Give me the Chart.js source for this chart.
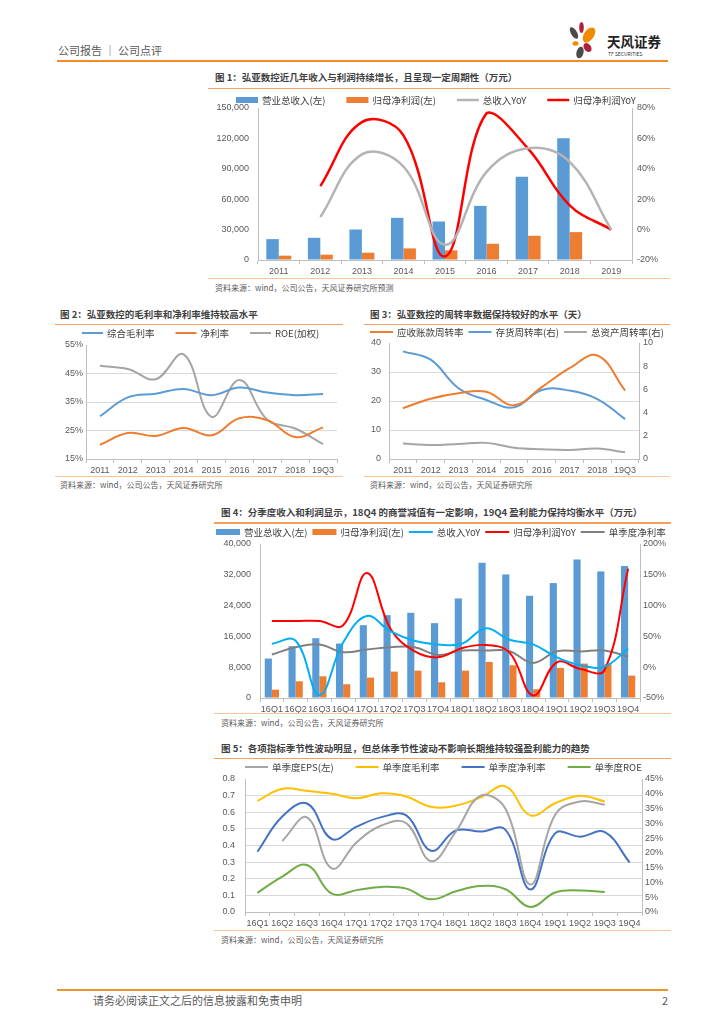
<!DOCTYPE html>
<html>
<head>
<meta charset="utf-8">
<script src="https://cdn.jsdelivr.net/npm/chart.js@4.4.1/dist/chart.umd.min.js"></script>
<style>
body { margin: 0; width: 724px; height: 1024px; position: relative; background: #fff; overflow: hidden;
       font-family: "Noto Sans CJK SC", sans-serif; }
.t { position: absolute; white-space: nowrap; line-height: 1; }
.title { font-size: 9.5px; font-weight: bold; color: #3f3f3f; }
.src { font-size: 8px; color: #595959; }
.rule { position: absolute; }
.top { height: 1.5px; background: #f5a05a; }
.bot { height: 1px; background: #f8c49b; }
canvas { position: absolute; }
</style>
</head>
<body>

<div class="t" style="left:58px;top:45px;font-size:11px;color:#595959">公司报告 ｜ 公司点评</div>
<div class="rule" style="left:57px;top:60px;width:611px;height:2px;background:#f08a2c"></div>
<svg style="position:absolute;left:560px;top:15px" width="50" height="50" viewBox="560 15 50 50">
  <ellipse cx="574" cy="33" rx="3" ry="6.5" fill="#4a4a4a" transform="rotate(-30 574 33)"/>
  <ellipse cx="581.5" cy="27.5" rx="2.3" ry="5.5" fill="#b01f3c"/>
  <ellipse cx="589" cy="35" rx="5" ry="8.5" fill="#f08a00" transform="rotate(35 589 35)"/>
  <ellipse cx="575.5" cy="43.5" rx="3" ry="2.2" fill="#f08a00"/>
  <ellipse cx="587.5" cy="47.5" rx="3.5" ry="5" fill="#b01f3c" transform="rotate(-35 587.5 47.5)"/>
  <ellipse cx="580" cy="52.5" rx="3.5" ry="6" fill="#4a4a4a" transform="rotate(15 580 52.5)"/>
</svg>
<div class="t" style="left:607px;top:35px;font-size:13.5px;font-weight:bold;color:#222">天风证券</div>
<div class="t" style="left:608px;top:51px;font-size:5px;color:#333">TF SECURITIES</div>

<div class="t title" style="left:215px;top:73px">图 1：弘亚数控近几年收入与利润持续增长，且呈现一定周期性（万元）</div>
<div class="rule top" style="left:208px;top:87.5px;width:462px"></div>
<canvas id="c1" width="467" height="188" style="left:205px;top:90px"></canvas>
<div class="rule bot" style="left:208px;top:278px;width:462px"></div>
<div class="t src" style="left:215px;top:284px">资料来源：wind，公司公告，天风证券研究所预测</div>

<div class="t title" style="left:60px;top:310px">图 2：弘亚数控的毛利率和净利率维持较高水平</div>
<div class="rule top" style="left:55px;top:323.5px;width:288px"></div>
<canvas id="c2" width="290" height="150" style="left:55px;top:326px"></canvas>
<div class="rule bot" style="left:55px;top:475.5px;width:288px"></div>
<div class="t src" style="left:60px;top:481px">资料来源：wind，公司公告，天风证券研究所</div>

<div class="t title" style="left:370px;top:310px">图 3：弘亚数控的周转率数据保持较好的水平（天）</div>
<div class="rule top" style="left:364px;top:323.5px;width:306px"></div>
<canvas id="c3" width="310" height="150" style="left:362px;top:326px"></canvas>
<div class="rule bot" style="left:364px;top:475.5px;width:306px"></div>
<div class="t src" style="left:370px;top:481px">资料来源：wind，公司公告，天风证券研究所</div>

<div class="t title" style="left:221px;top:508px">图 4：分季度收入和利润显示，18Q4 的商誉减值有一定影响，19Q4 盈利能力保持均衡水平（万元）</div>
<div class="rule top" style="left:214px;top:522px;width:457px"></div>
<canvas id="c4" width="475" height="188" style="left:205px;top:525px"></canvas>
<div class="rule bot" style="left:214px;top:712.5px;width:457px"></div>
<div class="t src" style="left:221px;top:718.5px">资料来源：wind，公司公告，天风证券研究所</div>

<div class="t title" style="left:221px;top:744px">图 5：各项指标季节性波动明显，但总体季节性波动不影响长期维持较强盈利能力的趋势</div>
<div class="rule top" style="left:214px;top:757.5px;width:457px"></div>
<canvas id="c5" width="475" height="170" style="left:205px;top:760px"></canvas>
<div class="rule bot" style="left:214px;top:929.5px;width:457px"></div>
<div class="t src" style="left:221px;top:936px">资料来源：wind，公司公告，天风证券研究所</div>

<div class="rule" style="left:57px;top:988.5px;width:611px;height:2px;background:#e8962e"></div>
<div class="t" style="left:93px;top:994.5px;font-size:11px;color:#595959">请务必阅读正文之后的信息披露和免责申明</div>
<div class="t" style="left:662px;top:994.5px;font-size:11px;color:#595959">2</div>

<script>
// 图1 年度数据
const years = ['2011', '2012', '2013', '2014', '2015', '2016', '2017', '2018', '2019'];
const yearRevenue = [20600, 21900, 30100, 41600, 38000, 53400, 82200, 120200, null];
const yearProfit = [4260, 5240, 7200, 11460, 9500, 16000, 23900, 27500, null];
const yearRevenueYoY = [null, 8.3, 49.5, 41.5, -10, 38, 53.5, 44.5, 0];
const yearProfitYoY = [null, 28.6, 70.7, 62, -17.7, 76.6, 53.3, 16, 0];

// 图2 / 图3
const annualLabels = ['2011', '2012', '2013', '2014', '2015', '2016', '2017', '2018', '19Q3'];
const grossMargin = [30.0, 36.6, 37.9, 39.6, 37.4, 40.1, 38.3, 37.4, 37.8];
const netMargin = [20.0, 24.1, 23.1, 25.9, 23.3, 29.3, 28.6, 22.7, 26.1];
const roeWeighted = [47.7, 46.6, 43.0, 51.7, 29.8, 42.7, 28.8, 25.7, 20.2];
const arTurnover = [17.5, 20.8, 22.7, 23.2, 18.5, 24.8, 31.3, 35.7, 23.6];
const invTurnover = [9.28, 8.56, 6.1, 5.09, 4.45, 5.95, 5.9, 5.17, 3.44];
const assetTurnover = [1.33, 1.21, 1.3, 1.39, 0.98, 0.84, 0.78, 0.9, 0.58];

// 图4 / 图5 分季度
const quarters = ['16Q1', '16Q2', '16Q3', '16Q4', '17Q1', '17Q2', '17Q3', '17Q4',
                  '18Q1', '18Q2', '18Q3', '18Q4', '19Q1', '19Q2', '19Q3', '19Q4'];
const qRevenue = [10240, 13450, 15530, 14140, 18920, 21520, 22130, 19440,
                  25860, 35140, 32100, 26550, 29850, 36000, 32880, 34270];
const qProfit = [2170, 4340, 5640, 3560, 5290, 6850, 7110, 4080,
                 7110, 9370, 8500, 2260, 7810, 8940, 8760, 5810];
const qRevenueYoY = [38, 43, -45, 40, 83, 58, 43, 37, 38, 63, 44.5, 37, 16, 3, 1, 30];
const qProfitYoY = [75, 75, 75, 68, 153, 62, 26, 16, 31, 36, 24, -46, 8, -3, -5, 160];
const qNetMarginBar = [20.6, 32.5, 37, 24.4, 28.7, 32.5, 32.5, 20, 27, 27, 26, 7, 26, 25.5, 27, 17.4];
const qEps = [null, 0.427, 0.569, 0.262, 0.419, 0.52, 0.534, 0.306,
              0.484, 0.70, 0.62, 0.165, 0.585, 0.665, 0.645, null];
const qGrossMargin = [37.6, 41.7, 41, 40, 38.5, 40.2, 39.1, 35.6,
                      36, 38.8, 42.5, 32.7, 36.8, 39.3, 37.4, null];
const qNetMargin = [20.4, 32.3, 36.7, 24.7, 28.9, 32.1, 32.7, 20.7,
                    27.6, 27.2, 27.8, 7.6, 26.6, 25.5, 27, 16.8];
const qRoe = [6.5, 12, 15.9, 6.2, 7.4, 8.5, 7.9, 4.3, 7, 8.8, 7.7, 1.7, 6.6, 7.3, 6.8, null];

const tickFont = { family: '"Liberation Sans", Arial, sans-serif', size: 9 };
const tickColor = '#595959';
const axisColor = '#bfbfbf';
const gridColor = '#d9d9d9';

// excel-style legend: sample + text, laid out left to right
const excelLegend = {
    id: 'excelLegend',
    afterDraw(chart, args, opts) {
        const ctx = chart.ctx;
        ctx.save();
        ctx.font = '9.5px "Noto Sans CJK SC", sans-serif';
        ctx.textBaseline = 'middle';
        let x = opts.x;
        chart.data.datasets.forEach(ds => {
            if (ds.type === 'bar') {
                ctx.fillStyle = ds.backgroundColor;
                ctx.fillRect(x, opts.y - 3, opts.sw, 6);
            } else {
                ctx.strokeStyle = ds.borderColor;
                ctx.lineWidth = ds.borderWidth;
                ctx.beginPath();
                ctx.moveTo(x, opts.y);
                ctx.lineTo(x + opts.sw, opts.y);
                ctx.stroke();
            }
            ctx.fillStyle = '#404040';
            ctx.fillText(ds.label, x + opts.sw + 4, opts.y + 0.5);
            x += opts.sw + 4 + ctx.measureText(ds.label).width + opts.gap;
        });
        ctx.restore();
    }
};

function xAxis(h) {
    return {
        offset: true,
        grid: { offset: true, drawOnChartArea: false, drawTicks: true, tickLength: 4, color: axisColor },
        border: { color: axisColor },
        ticks: { font: tickFont, color: tickColor, padding: 2, autoSkip: false, maxRotation: 0 },
        afterFit: s => { s.height = h; }
    };
}

function yAxis(position, w, min, max, step, fmt, pad, gridOn) {
    return {
        position, min, max,
        ticks: { stepSize: step, font: tickFont, color: tickColor, padding: pad, callback: fmt },
        grid: {
            drawOnChartArea: gridOn, drawTicks: false,
            color: c => (c.tick && c.tick.value >= max - 1e-9) ? 'rgba(0,0,0,0)' : gridColor
        },
        border: { color: axisColor },
        afterFit: s => { s.width = w; }
    };
}

function line(label, data, color, width, axis) {
    return {
        type: 'line', label, data, yAxisID: axis,
        borderColor: color, backgroundColor: color, borderWidth: width,
        pointRadius: 0, tension: 0.4, fill: false, order: 0
    };
}

function bar(label, data, color) {
    return {
        type: 'bar', label, data, yAxisID: 'y',
        backgroundColor: color, borderWidth: 0,
        barPercentage: 1, categoryPercentage: 0.6, order: 1
    };
}

function baseOptions(padding, legend, scales) {
    return {
        responsive: false,
        animation: false,
        layout: { padding },
        plugins: { legend: { display: false }, tooltip: { enabled: false }, excelLegend: legend },
        scales
    };
}

const pct = v => v + '%';
const thousands = v => v.toLocaleString('en-US');

new Chart(document.getElementById('c1'), {
    data: {
        labels: years,
        datasets: [
            bar('营业总收入(左)', yearRevenue, '#5b9bd5'),
            bar('归母净利润(左)', yearProfit, '#ed7d31'),
            line('总收入YoY', yearRevenueYoY, '#b4b4b4', 2.5, 'y2'),
            line('归母净利润YoY', yearProfitYoY, '#ff0000', 2.5, 'y2')
        ]
    },
    options: baseOptions({ top: 18 }, { x: 31, y: 10, sw: 22, gap: 21 }, {
        x: xAxis(18),
        y: yAxis('left', 53, 0, 150000, 30000, thousands, 9, false),
        y2: yAxis('right', 40, -20, 80, 20, pct, 5, false)
    }),
    plugins: [excelLegend]
});

new Chart(document.getElementById('c2'), {
    type: 'line',
    data: {
        labels: annualLabels,
        datasets: [
            line('综合毛利率', grossMargin, '#5b9bd5', 2, 'y'),
            line('净利率', netMargin, '#ed7d31', 2, 'y'),
            line('ROE(加权)', roeWeighted, '#a5a5a5', 2, 'y')
        ]
    },
    options: baseOptions({ top: 19, right: 8 }, { x: 27, y: 7, sw: 21, gap: 21 }, {
        x: xAxis(17),
        y: yAxis('left', 31, 15, 55, 10, pct, 3, true)
    }),
    plugins: [excelLegend]
});

new Chart(document.getElementById('c3'), {
    type: 'line',
    data: {
        labels: annualLabels,
        datasets: [
            line('应收账款周转率', arTurnover, '#ed7d31', 2, 'y'),
            line('存货周转率(右)', invTurnover, '#5b9bd5', 2, 'y2'),
            line('总资产周转率(右)', assetTurnover, '#a5a5a5', 2, 'y2')
        ]
    },
    options: baseOptions({ top: 17 }, { x: 8, y: 6, sw: 23, gap: 5 }, {
        x: xAxis(17),
        y: yAxis('left', 27, 0, 40, 10, v => v, 8, true),
        y2: yAxis('right', 33, 0, 10, 2, v => v, 4, false)
    }),
    plugins: [excelLegend]
});

new Chart(document.getElementById('c4'), {
    data: {
        labels: quarters,
        datasets: [
            bar('营业总收入(左)', qRevenue, '#5b9bd5'),
            bar('归母净利润(左)', qProfit, '#ed7d31'),
            line('总收入YoY', qRevenueYoY, '#00b0f0', 2, 'y2'),
            line('归母净利润YoY', qProfitYoY, '#ff0000', 2, 'y2'),
            line('单季度净利率', qNetMarginBar, '#808080', 2, 'y2')
        ]
    },
    options: baseOptions({ top: 19 }, { x: 11, y: 7, sw: 24, gap: 5 }, {
        x: xAxis(15),
        y: yAxis('left', 55, 0, 40000, 8000, thousands, 9, false),
        y2: yAxis('right', 40, -50, 200, 50, pct, 3, false)
    }),
    plugins: [excelLegend]
});

new Chart(document.getElementById('c5'), {
    type: 'line',
    data: {
        labels: quarters,
        datasets: [
            line('单季度EPS(左)', qEps, '#a5a5a5', 2, 'y'),
            line('单季度毛利率', qGrossMargin, '#ffc000', 2, 'y2'),
            line('单季度净利率', qNetMargin, '#4472c4', 2, 'y2'),
            line('单季度ROE', qRoe, '#70ad47', 2, 'y2')
        ]
    },
    options: baseOptions({ top: 19 }, { x: 40, y: 7, sw: 23, gap: 22 }, {
        x: xAxis(18),
        y: yAxis('left', 40, 0, 0.8, 0.1, v => v.toFixed(1), 10, true),
        y2: yAxis('right', 38, 0, 45, 5, pct, 3, false)
    }),
    plugins: [excelLegend]
});
</script>
</body>
</html>
